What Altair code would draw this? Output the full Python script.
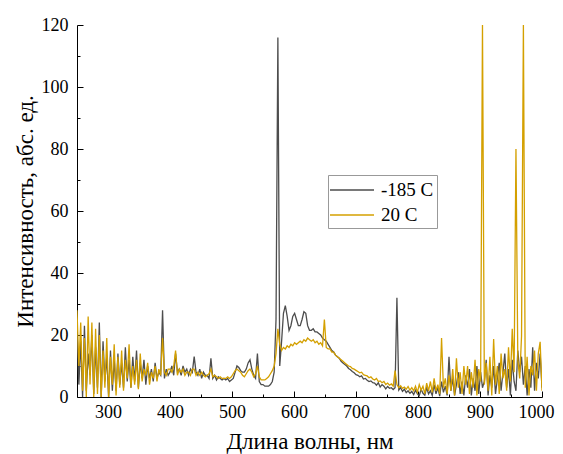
import altair as alt
import pandas as pd

# wavelength grid, nm (3 nm step)
wavelengths = list(range(250, 1001, 3))

# -185 C spectrum
cold = [
    22, 4, 18, 0, 23, 2, 14, 7, 20, 1,
    16, 3, 24, 0, 18, 5, 13, 0, 15, 2,
    12, 2, 14, 4, 11, 3, 16, 5, 12, 3,
    13, 5, 15, 3, 11, 6, 12, 4, 10, 6,
    9, 5, 11, 6, 8, 7, 28, 6, 9, 7,
    8, 10, 7, 14, 8, 9, 7, 10, 8, 9,
    7, 9, 8, 13, 8, 7, 9, 6, 8, 7,
    7, 6, 12.5, 6, 7, 5.5, 6.5, 6, 5.5, 6,
    5.5, 6, 5, 5.5, 6, 8, 10, 9.5, 8.5, 8,
    8, 9, 11, 12, 9, 7, 6, 14, 5, 4,
    4, 3.5, 3.5, 3.5, 4, 5, 8, 25, 116, 10,
    18, 27, 29.5, 26, 21.5, 23, 26, 27, 25, 23,
    23, 25, 27.5, 27, 23, 21.5, 21.5, 22, 21, 21,
    20.5, 20, 19, 18.5, 18, 17, 16, 15, 14.5, 13.5,
    13, 12.5, 11.5, 11, 10.5, 10, 9.2, 8.8, 8.2, 7.8,
    7.2, 7, 6.5, 6.8, 5.8, 6, 5.4, 5, 5.2, 4.6,
    4.5, 3.8, 4.6, 3.2, 4, 3.5, 2.6, 3.4, 2.8, 3,
    2.4, 3, 32, 2.2, 3, 1.8, 2.5, 1.4, 2, 1.2,
    1.8, 0.8, 2.2, 1, 0.4, 2.5, 1.2, 0.6, 3, 1,
    2, 0.5, 4, 1, 3, 0.3, 5, 1.5, 3.5, 0.5,
    13, 2, 6, 0.5, 4, 8, 1, 5, 0.5, 7,
    3, 9, 0.5, 6, 2, 10, 1, 8, 3, 5,
    12, 0.5, 7, 3, 10, 1, 6, 11, 2, 8,
    14, 3, 9, 0.5, 12, 5, 2, 15, 8, 13,
    4, 10, 0.5, 9, 3, 16, 2, 11, 6, 14,
    3,
]

# 20 C spectrum
warm = [
    28, 10, 24, 2, 19, 0, 26, 4, 24, 0,
    22, 1, 20, 0, 15, 3, 19, 0, 13, 4,
    17, 0.5, 13, 3, 15, 2, 12, 6, 17, 3,
    10, 4, 12, 2.5, 14, 5, 9, 7, 11, 4,
    8, 6, 10, 5, 9, 7, 19, 8, 7, 9,
    9, 8, 10, 15, 7, 9, 8, 9, 7, 8,
    8, 7, 9, 9, 7, 8, 7, 8, 7, 6.5,
    7, 7.5, 9, 6.5, 7, 6.5, 6, 6.5, 6, 6,
    6, 6.5, 6, 6.5, 7.5, 8.5, 9, 8.5, 8, 7,
    6.5, 7.5, 8.5, 9, 8, 6.5, 7.5, 10, 6.5, 5.5,
    5.5, 5.5, 6, 6.5, 7.5, 8.5, 10, 14, 22, 17,
    15, 16, 15.5, 16.5, 16, 17, 16.5, 17.5, 17, 17.5,
    18, 17.5, 18.5, 18, 19, 18.5, 18, 18.5, 17.5, 18,
    17, 17.5, 16.5, 25, 16, 15.5, 15.5, 14.5, 14.5, 13.5,
    13, 12.5, 12, 11.5, 11, 10.5, 10, 9.8, 9.2, 9,
    8.6, 8.2, 7.8, 8, 7.2, 7, 6.8, 6.2, 6.5, 5.8,
    5.5, 6, 5, 5.2, 4.6, 5, 4, 4.5, 3.8, 4.2,
    3.5, 8.5, 4, 3, 3.6, 2.8, 3.2, 2.5, 3.4, 2.2,
    3, 2, 3.5, 1.5, 4, 2.2, 3.5, 1, 4.5, 2,
    5, 1.5, 6, 2, 4, 1, 19, 3, 6, 1,
    7, 2, 9, 0.5, 12.5, 3, 8, 1, 10, 4,
    10, 1, 8, 3, 12, 0.5, 9, 5, 120, 4,
    11, 2, 13, 0.5, 18.7, 4, 10, 1, 14, 6,
    9, 2, 16, 5, 22, 8, 80, 12, 6, 19.7,
    120, 3, 13, 0.5, 10, 7, 15, 2, 14, 17.8,
    2,
]

series_names = ["-185 C", "20 C"]
series_colors = ["#4d4d4d", "#d4a000"]

x_major = [300, 400, 500, 600, 700, 800, 900, 1000]
x_minor = [350, 450, 550, 650, 750, 850, 950]
y_major = [0, 20, 40, 60, 80, 100, 120]
y_minor = [10, 30, 50, 70, 90, 110]

df = pd.DataFrame({
    "wl": wavelengths * 2,
    "val": cold + warm,
    "series": [series_names[0]] * len(cold) + [series_names[1]] * len(warm),
})

FONT = "Liberation Serif"
xs = alt.Scale(domain=[250, 1000], nice=False)
ys = alt.Scale(domain=[0, 120], nice=False)
color = alt.Color(
    "series:N",
    scale=alt.Scale(domain=series_names, range=series_colors),
    legend=alt.Legend(
        title=None, orient="none", legendX=251, legendY=150,
        symbolType="M-2,0L2,0", symbolSize=484, symbolStrokeWidth=1.5,
        symbolOffset=9,
        labelFont=FONT, labelFontSize=19, labelColor="black",
        labelOffset=17, padding=3, rowPadding=3,
        strokeColor="#999999", fillColor="white",
    ),
)

base = alt.Chart(df)

cold_line = base.transform_filter(alt.datum.series == series_names[0]).mark_line(
    strokeWidth=1.3, clip=True
).encode(
    x=alt.X("wl:Q", scale=xs, axis=alt.Axis(
        values=x_major, ticks=False, tickSize=0, labelPadding=6, format="d",
        title="Длина волны, нм", titlePadding=9, grid=False,
        labelFlush=1, labelFlushOffset=12)),
    y=alt.Y("val:Q", scale=ys, axis=alt.Axis(
        values=y_major, ticks=False, tickSize=0, labelPadding=9,
        title="Интенсивность, абс. ед.", titlePadding=4, grid=False)),
    color=color,
)

warm_line = base.transform_filter(alt.datum.series == series_names[1]).mark_line(
    strokeWidth=1.3, clip=True
).encode(
    x=alt.X("wl:Q", scale=xs, axis=None),
    y=alt.Y("val:Q", scale=ys, axis=None),
    color=color,
)

major_ticks = base.mark_line(opacity=0).encode(
    x=alt.X("wl:Q", scale=xs, axis=alt.Axis(
        orient="bottom", values=x_major, tickSize=6, offset=-6, labels=False,
        domain=False, title=None, grid=False)),
    y=alt.Y("val:Q", scale=ys, axis=alt.Axis(
        orient="left", values=y_major, tickSize=6, offset=-6, labels=False,
        domain=False, title=None, grid=False)),
    detail="series:N",
)

minor_ticks = base.mark_line(opacity=0).encode(
    x=alt.X("wl:Q", scale=xs, axis=alt.Axis(
        orient="bottom", values=x_minor, tickSize=3, offset=-3, labels=False,
        domain=False, title=None, grid=False)),
    y=alt.Y("val:Q", scale=ys, axis=alt.Axis(
        orient="left", values=y_minor, tickSize=3, offset=-3, labels=False,
        domain=False, title=None, grid=False)),
    detail="series:N",
)

chart = alt.layer(cold_line, warm_line, major_ticks, minor_ticks).resolve_axis(
    x="independent", y="independent"
).properties(
    width=465, height=372,
    autosize=alt.AutoSizeParams(type="none"),
    padding={"left": 69, "top": 17, "right": 13, "bottom": 57},
).configure_axis(
    labelFont=FONT, labelFontSize=18, labelColor="black",
    titleFont=FONT, titleFontSize=23, titleColor="black", titleFontWeight="normal",
    domainColor="black", domainWidth=1, tickColor="black", tickWidth=1,
).configure_view(stroke=None)

chart.save("out.html", embed_options={"renderer": "svg", "actions": False})
